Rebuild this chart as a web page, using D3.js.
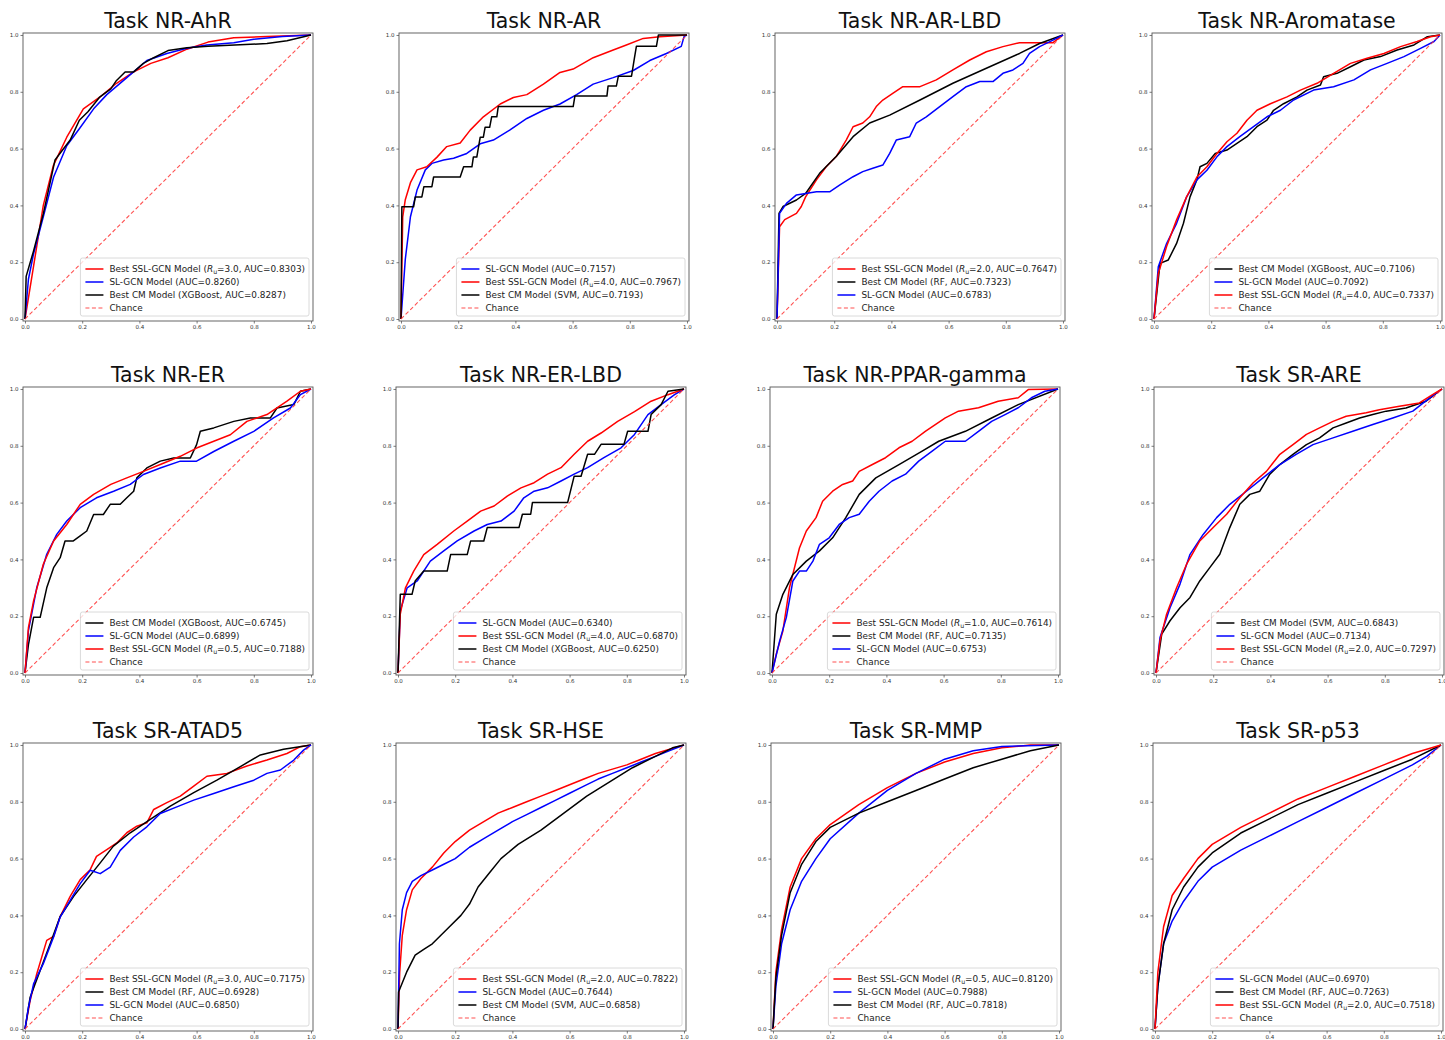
<!DOCTYPE html>
<html><head><meta charset="utf-8">
<script src="https://cdn.jsdelivr.net/npm/d3@7"></script>
<style>body{margin:0;background:#fff;} text{font-family:"DejaVu Sans",sans-serif;}</style>
</head><body><svg id="c" width="1445" height="1040"></svg>
<script>
// ---------- DATA ----------
const taskNames = ["Task NR-AhR","Task NR-AR","Task NR-AR-LBD","Task NR-Aromatase",
  "Task NR-ER","Task NR-ER-LBD","Task NR-PPAR-gamma","Task SR-ARE",
  "Task SR-ATAD5","Task SR-HSE","Task SR-MMP","Task SR-p53"];
const tickValues = [0,0.2,0.4,0.6,0.8,1.0];
const chance = [[0,0],[1,1]];

// NR-AhR
const AhR_ssl=[[0,0],[0.029,0.18],[0.064,0.40],[0.099,0.54],[0.146,0.64],[0.204,0.74],[0.26,0.78],[0.32,0.83],[0.38,0.87],[0.44,0.90],[0.5,0.92],[0.566,0.95],[0.64,0.975],[0.73,0.99],[0.846,0.995],[1,1]];
const AhR_sl=[[0,0],[0.012,0.14],[0.03,0.23],[0.064,0.36],[0.1,0.50],[0.146,0.61],[0.19,0.67],[0.24,0.74],[0.286,0.79],[0.356,0.85],[0.426,0.91],[0.496,0.935],[0.566,0.953],[0.636,0.965],[0.73,0.973],[0.8,0.985],[0.9,0.995],[1,1]];
const AhR_cm=[[0,0],[0.004,0.15],[0.03,0.24],[0.064,0.37],[0.105,0.56],[0.12,0.58],[0.158,0.63],[0.19,0.70],[0.22,0.73],[0.26,0.78],[0.30,0.81],[0.32,0.84],[0.35,0.87],[0.38,0.87],[0.414,0.90],[0.45,0.92],[0.5,0.945],[0.566,0.955],[0.64,0.96],[0.846,0.97],[0.916,0.98],[0.96,0.99],[1,1]];
// NR-AR
const AR_sl=[[0,0],[0.015,0.21],[0.033,0.36],[0.056,0.454],[0.085,0.525],[0.108,0.548],[0.149,0.56],[0.184,0.566],[0.23,0.583],[0.277,0.617],[0.323,0.63],[0.38,0.665],[0.44,0.706],[0.498,0.735],[0.556,0.757],[0.614,0.79],[0.672,0.827],[0.742,0.85],[0.812,0.875],[0.87,0.91],[0.928,0.935],[0.98,0.96],[0.99,0.995],[1,1]];
const AR_ssl=[[0,0],[0.006,0.36],[0.015,0.42],[0.033,0.48],[0.056,0.525],[0.09,0.536],[0.126,0.57],[0.16,0.607],[0.207,0.62],[0.242,0.665],[0.288,0.712],[0.347,0.757],[0.393,0.78],[0.44,0.79],[0.498,0.827],[0.556,0.868],[0.602,0.88],[0.672,0.92],[0.742,0.947],[0.788,0.965],[0.847,0.988],[0.905,0.994],[1,1]];
const AR_cm=[[0,0],[0.003,0.395],[0.044,0.395],[0.05,0.43],[0.073,0.43],[0.08,0.466],[0.108,0.466],[0.114,0.5],[0.207,0.5],[0.219,0.536],[0.248,0.536],[0.253,0.57],[0.265,0.57],[0.277,0.64],[0.288,0.64],[0.294,0.675],[0.31,0.675],[0.317,0.712],[0.335,0.712],[0.34,0.748],[0.602,0.748],[0.608,0.785],[0.72,0.785],[0.724,0.82],[0.753,0.82],[0.76,0.855],[0.806,0.855],[0.816,0.918],[0.823,0.96],[0.893,0.96],[0.9,1.0],[1,1]];
// NR-AR-LBD
const ARLBD_ssl=[[0,0],[0.009,0.325],[0.027,0.35],[0.068,0.372],[0.085,0.396],[0.1,0.43],[0.138,0.49],[0.172,0.536],[0.207,0.572],[0.242,0.63],[0.266,0.677],[0.3,0.69],[0.324,0.712],[0.347,0.748],[0.37,0.771],[0.406,0.795],[0.44,0.818],[0.5,0.818],[0.557,0.842],[0.615,0.877],[0.674,0.912],[0.732,0.941],[0.79,0.959],[0.848,0.973],[0.965,0.973],[1,1]];
const ARLBD_cm=[[0,0],[0.007,0.372],[0.021,0.396],[0.068,0.419],[0.1,0.442],[0.149,0.513],[0.207,0.572],[0.266,0.642],[0.324,0.69],[0.394,0.718],[0.5,0.771],[0.615,0.83],[0.732,0.883],[0.848,0.935],[0.918,0.97],[1,1]];
const ARLBD_sl=[[0,0],[0.009,0.372],[0.033,0.407],[0.068,0.437],[0.1,0.442],[0.138,0.448],[0.184,0.448],[0.22,0.472],[0.266,0.501],[0.3,0.519],[0.335,0.531],[0.37,0.542],[0.394,0.583],[0.417,0.63],[0.464,0.642],[0.487,0.69],[0.522,0.712],[0.569,0.748],[0.615,0.783],[0.662,0.818],[0.709,0.836],[0.755,0.836],[0.79,0.865],[0.825,0.877],[0.86,0.9],[0.883,0.935],[0.918,0.959],[0.965,0.982],[1,1]];
// NR-Aromatase
const ARO_cm=[[0,0],[0.021,0.196],[0.05,0.208],[0.079,0.266],[0.103,0.337],[0.126,0.43],[0.15,0.49],[0.161,0.536],[0.185,0.548],[0.214,0.583],[0.255,0.595],[0.29,0.618],[0.325,0.642],[0.36,0.677],[0.395,0.7],[0.418,0.735],[0.453,0.758],[0.5,0.782],[0.535,0.806],[0.582,0.824],[0.593,0.853],[0.64,0.865],[0.687,0.888],[0.734,0.912],[0.792,0.924],[0.85,0.947],[0.909,0.965],[0.956,0.994],[1,1]];
const ARO_sl=[[0,0],[0.015,0.184],[0.044,0.266],[0.079,0.337],[0.114,0.43],[0.15,0.49],[0.185,0.524],[0.22,0.571],[0.255,0.607],[0.3,0.642],[0.348,0.677],[0.395,0.712],[0.442,0.735],[0.488,0.771],[0.558,0.806],[0.628,0.818],[0.699,0.842],[0.757,0.877],[0.815,0.9],[0.874,0.924],[0.932,0.953],[0.979,0.977],[1,1]];
const ARO_ssl=[[0,0],[0.015,0.16],[0.044,0.255],[0.079,0.349],[0.114,0.43],[0.15,0.5],[0.185,0.536],[0.22,0.583],[0.255,0.624],[0.29,0.654],[0.325,0.7],[0.36,0.735],[0.407,0.758],[0.465,0.782],[0.512,0.806],[0.57,0.83],[0.628,0.865],[0.687,0.9],[0.745,0.918],[0.804,0.935],[0.862,0.959],[0.92,0.977],[0.967,0.994],[1,1]];
// NR-ER
const ER_cm=[[0,0],[0.012,0.1],[0.03,0.196],[0.053,0.196],[0.076,0.3],[0.1,0.371],[0.123,0.406],[0.14,0.465],[0.169,0.465],[0.193,0.483],[0.216,0.5],[0.24,0.558],[0.274,0.558],[0.298,0.594],[0.333,0.594],[0.356,0.617],[0.38,0.64],[0.391,0.687],[0.426,0.722],[0.473,0.746],[0.52,0.757],[0.578,0.757],[0.6,0.804],[0.613,0.851],[0.66,0.863],[0.73,0.886],[0.788,0.898],[0.858,0.898],[0.881,0.933],[0.94,0.945],[0.963,0.992],[1,1]];
const ER_sl=[[0,0],[0.012,0.149],[0.041,0.3],[0.076,0.418],[0.111,0.488],[0.146,0.535],[0.193,0.582],[0.25,0.617],[0.31,0.64],[0.368,0.664],[0.414,0.699],[0.473,0.722],[0.543,0.746],[0.6,0.746],[0.66,0.78],[0.73,0.816],[0.8,0.851],[0.869,0.898],[0.928,0.933],[0.963,0.98],[1,1]];
const ER_ssl=[[0,0],[0.012,0.16],[0.03,0.254],[0.064,0.383],[0.1,0.465],[0.146,0.523],[0.193,0.594],[0.24,0.629],[0.3,0.664],[0.356,0.687],[0.414,0.71],[0.473,0.734],[0.543,0.763],[0.6,0.792],[0.66,0.816],[0.718,0.839],[0.776,0.886],[0.846,0.91],[0.916,0.957],[0.963,0.992],[1,1]];
// NR-ER-LBD
const ERLBD_sl=[[0,0],[0.008,0.219],[0.032,0.3],[0.067,0.324],[0.113,0.394],[0.16,0.43],[0.207,0.465],[0.266,0.5],[0.312,0.523],[0.36,0.535],[0.406,0.57],[0.44,0.617],[0.476,0.64],[0.523,0.652],[0.57,0.676],[0.616,0.7],[0.663,0.723],[0.72,0.758],[0.78,0.793],[0.827,0.84],[0.874,0.91],[0.92,0.945],[0.967,0.98],[1,1]];
const ERLBD_ssl=[[0,0],[0.008,0.207],[0.026,0.3],[0.055,0.359],[0.09,0.417],[0.137,0.453],[0.195,0.5],[0.242,0.535],[0.289,0.57],[0.336,0.588],[0.382,0.623],[0.43,0.652],[0.476,0.67],[0.523,0.7],[0.57,0.723],[0.616,0.77],[0.663,0.816],[0.71,0.845],[0.768,0.886],[0.827,0.92],[0.885,0.957],[0.944,0.98],[1,1]];
const ERLBD_cm=[[0,0],[0.008,0.277],[0.049,0.277],[0.06,0.324],[0.09,0.359],[0.172,0.359],[0.184,0.417],[0.242,0.417],[0.254,0.465],[0.3,0.465],[0.312,0.512],[0.423,0.512],[0.435,0.559],[0.464,0.559],[0.47,0.6],[0.593,0.6],[0.616,0.693],[0.64,0.693],[0.663,0.77],[0.687,0.77],[0.71,0.805],[0.79,0.805],[0.803,0.851],[0.874,0.851],[0.885,0.91],[0.92,0.945],[0.944,0.992],[1,1]];
// NR-PPAR-gamma
const PPAR_ssl=[[0,0],[0.015,0.067],[0.038,0.148],[0.061,0.3],[0.096,0.44],[0.12,0.5],[0.154,0.547],[0.177,0.605],[0.212,0.64],[0.247,0.664],[0.282,0.676],[0.305,0.71],[0.351,0.734],[0.397,0.758],[0.444,0.793],[0.49,0.816],[0.536,0.851],[0.606,0.898],[0.652,0.922],[0.722,0.934],[0.791,0.957],[0.861,0.969],[0.896,0.998],[1,1]];
const PPAR_cm=[[0,0],[0.015,0.207],[0.038,0.277],[0.073,0.347],[0.12,0.394],[0.166,0.43],[0.212,0.476],[0.258,0.547],[0.305,0.629],[0.363,0.687],[0.444,0.734],[0.525,0.781],[0.583,0.816],[0.676,0.851],[0.768,0.898],[0.861,0.945],[1,1]];
const PPAR_sl=[[0,0],[0.027,0.114],[0.05,0.195],[0.073,0.324],[0.096,0.359],[0.12,0.359],[0.143,0.394],[0.166,0.453],[0.2,0.476],[0.235,0.523],[0.27,0.547],[0.305,0.559],[0.34,0.605],[0.374,0.64],[0.42,0.676],[0.467,0.7],[0.513,0.746],[0.56,0.781],[0.606,0.816],[0.676,0.816],[0.722,0.851],[0.768,0.886],[0.815,0.91],[0.861,0.934],[0.907,0.969],[0.954,0.992],[1,1]];
// SR-ARE
const ARE_cm=[[0,0],[0.02,0.137],[0.049,0.184],[0.084,0.23],[0.119,0.266],[0.153,0.324],[0.188,0.371],[0.223,0.418],[0.258,0.512],[0.293,0.594],[0.328,0.629],[0.363,0.64],[0.398,0.7],[0.433,0.734],[0.479,0.77],[0.526,0.804],[0.572,0.828],[0.619,0.863],[0.665,0.88],[0.712,0.898],[0.758,0.91],[0.805,0.922],[0.874,0.933],[0.944,0.957],[0.967,0.975],[1,1]];
const ARE_sl=[[0,0],[0.014,0.125],[0.049,0.23],[0.084,0.313],[0.119,0.418],[0.165,0.488],[0.212,0.547],[0.258,0.594],[0.316,0.64],[0.374,0.687],[0.433,0.734],[0.49,0.77],[0.549,0.804],[0.619,0.828],[0.688,0.851],[0.758,0.875],[0.828,0.898],[0.898,0.922],[0.956,0.968],[1,1]];
const ARE_ssl=[[0,0],[0.014,0.114],[0.037,0.207],[0.072,0.3],[0.107,0.383],[0.153,0.465],[0.2,0.512],[0.247,0.559],[0.293,0.617],[0.34,0.67],[0.386,0.71],[0.433,0.77],[0.479,0.804],[0.526,0.84],[0.572,0.863],[0.619,0.886],[0.665,0.904],[0.735,0.916],[0.781,0.927],[0.851,0.939],[0.921,0.951],[0.967,0.98],[1,1]];
// SR-ATAD5
const ATAD5_ssl=[[0,0],[0.018,0.1],[0.041,0.194],[0.076,0.312],[0.1,0.326],[0.123,0.396],[0.158,0.467],[0.193,0.526],[0.228,0.561],[0.25,0.608],[0.286,0.632],[0.321,0.655],[0.356,0.691],[0.391,0.714],[0.426,0.726],[0.45,0.773],[0.496,0.797],[0.543,0.82],[0.59,0.855],[0.636,0.89],[0.706,0.9],[0.776,0.926],[0.846,0.947],[0.916,0.97],[0.963,0.994],[1,1]];
const ATAD5_cm=[[0,0],[0.018,0.112],[0.053,0.206],[0.088,0.3],[0.123,0.396],[0.17,0.467],[0.216,0.526],[0.263,0.585],[0.309,0.644],[0.368,0.691],[0.438,0.738],[0.508,0.785],[0.59,0.832],[0.671,0.876],[0.753,0.924],[0.823,0.965],[0.904,0.985],[1,1]];
const ATAD5_sl=[[0,0],[0.012,0.076],[0.03,0.159],[0.064,0.23],[0.1,0.324],[0.123,0.394],[0.158,0.453],[0.193,0.512],[0.228,0.559],[0.263,0.547],[0.298,0.57],[0.333,0.629],[0.38,0.676],[0.426,0.712],[0.473,0.759],[0.531,0.782],[0.59,0.806],[0.66,0.829],[0.73,0.853],[0.8,0.876],[0.846,0.9],[0.893,0.912],[0.94,0.947],[0.974,0.982],[1,1]];
// SR-HSE
const HSE_ssl=[[0,0],[0.006,0.2],[0.015,0.33],[0.03,0.42],[0.05,0.49],[0.08,0.53],[0.12,0.57],[0.16,0.62],[0.2,0.66],[0.25,0.7],[0.3,0.73],[0.35,0.76],[0.4,0.78],[0.45,0.8],[0.5,0.82],[0.55,0.84],[0.6,0.86],[0.65,0.88],[0.7,0.9],[0.75,0.915],[0.8,0.93],[0.85,0.95],[0.9,0.97],[0.95,0.985],[1,1]];
const HSE_sl=[[0,0],[0.005,0.3],[0.015,0.42],[0.03,0.48],[0.05,0.52],[0.08,0.54],[0.12,0.56],[0.16,0.58],[0.2,0.6],[0.25,0.64],[0.3,0.67],[0.35,0.7],[0.4,0.73],[0.45,0.755],[0.5,0.78],[0.55,0.805],[0.6,0.83],[0.65,0.855],[0.7,0.88],[0.75,0.9],[0.8,0.92],[0.85,0.94],[0.9,0.96],[0.95,0.98],[1,1]];
const HSE_cm=[[0,0],[0.002,0.13],[0.03,0.2],[0.06,0.26],[0.09,0.28],[0.12,0.3],[0.15,0.33],[0.18,0.36],[0.22,0.4],[0.25,0.44],[0.28,0.5],[0.32,0.55],[0.36,0.6],[0.42,0.65],[0.5,0.7],[0.58,0.76],[0.66,0.82],[0.74,0.87],[0.82,0.92],[0.9,0.96],[0.96,0.99],[1,1]];
// SR-MMP
const MMP_ssl=[[0,0],[0.01,0.2],[0.03,0.35],[0.06,0.5],[0.1,0.6],[0.15,0.67],[0.2,0.72],[0.3,0.79],[0.4,0.85],[0.5,0.9],[0.6,0.94],[0.7,0.97],[0.8,0.99],[0.9,1.0],[1,1]];
const MMP_sl=[[0,0],[0.01,0.15],[0.03,0.3],[0.06,0.42],[0.1,0.52],[0.15,0.6],[0.2,0.67],[0.3,0.76],[0.4,0.84],[0.5,0.9],[0.6,0.95],[0.7,0.98],[0.8,0.995],[1,1]];
const MMP_cm=[[0,0],[0.01,0.18],[0.03,0.33],[0.06,0.48],[0.1,0.58],[0.15,0.66],[0.2,0.71],[0.3,0.76],[0.4,0.8],[0.5,0.84],[0.6,0.88],[0.7,0.92],[0.8,0.95],[0.9,0.98],[1,1]];
// SR-p53
const P53_sl=[[0,0],[0.01,0.15],[0.03,0.3],[0.06,0.38],[0.1,0.45],[0.15,0.52],[0.2,0.57],[0.3,0.63],[0.4,0.68],[0.5,0.73],[0.6,0.78],[0.7,0.83],[0.8,0.88],[0.9,0.93],[0.95,0.96],[1,1]];
const P53_cm=[[0,0],[0.01,0.15],[0.03,0.3],[0.06,0.42],[0.1,0.5],[0.15,0.57],[0.2,0.62],[0.3,0.69],[0.4,0.74],[0.5,0.79],[0.6,0.83],[0.7,0.87],[0.8,0.91],[0.9,0.95],[1,1]];
const P53_ssl=[[0,0],[0.01,0.2],[0.03,0.36],[0.06,0.47],[0.1,0.53],[0.15,0.6],[0.2,0.65],[0.3,0.71],[0.4,0.76],[0.5,0.81],[0.6,0.85],[0.7,0.89],[0.8,0.93],[0.9,0.97],[1,1]];

// legend order per panel (drawing order), with labels
const panelSeries = [
  [["ssl","3.0","0.8303",AhR_ssl],["sl","","0.8260",AhR_sl],["cm","XGBoost","0.8287",AhR_cm]],
  [["sl","","0.7157",AR_sl],["ssl","4.0","0.7967",AR_ssl],["cm","SVM","0.7193",AR_cm]],
  [["ssl","2.0","0.7647",ARLBD_ssl],["cm","RF","0.7323",ARLBD_cm],["sl","","0.6783",ARLBD_sl]],
  [["cm","XGBoost","0.7106",ARO_cm],["sl","","0.7092",ARO_sl],["ssl","4.0","0.7337",ARO_ssl]],
  [["cm","XGBoost","0.6745",ER_cm],["sl","","0.6899",ER_sl],["ssl","0.5","0.7188",ER_ssl]],
  [["sl","","0.6340",ERLBD_sl],["ssl","4.0","0.6870",ERLBD_ssl],["cm","XGBoost","0.6250",ERLBD_cm]],
  [["ssl","1.0","0.7614",PPAR_ssl],["cm","RF","0.7135",PPAR_cm],["sl","","0.6753",PPAR_sl]],
  [["cm","SVM","0.6843",ARE_cm],["sl","","0.7134",ARE_sl],["ssl","2.0","0.7297",ARE_ssl]],
  [["ssl","3.0","0.7175",ATAD5_ssl],["cm","RF","0.6928",ATAD5_cm],["sl","","0.6850",ATAD5_sl]],
  [["ssl","2.0","0.7822",HSE_ssl],["sl","","0.7644",HSE_sl],["cm","SVM","0.6858",HSE_cm]],
  [["ssl","0.5","0.8120",MMP_ssl],["sl","","0.7988",MMP_sl],["cm","RF","0.7818",MMP_cm]],
  [["sl","","0.6970",P53_sl],["cm","RF","0.7263",P53_cm],["ssl","2.0","0.7518",P53_ssl]]
];

// ---------- DRAW ----------
const svg = d3.select("#c");
svg.append("rect").attr("width",1445).attr("height",1040).attr("fill","#fff");
const boxTops=[33,387,743];
const boxLefts=[[23,399,775,1152],[23,396,770,1154],[23,396,771,1153]];
const BW=290, BH=288;
const colors={ssl:"#ff0000", sl:"#0000ff", cm:"#000000"};
const LEG_FS=8.9;

panelSeries.forEach((series,i)=>{
  const r=Math.floor(i/4), c=i%4;
  const L=boxLefts[r][c], T=boxTops[r];
  const x=d3.scaleLinear().domain([-0.007,1.007]).range([L,L+BW]);
  const y=d3.scaleLinear().domain([-0.007,1.007]).range([T+BH,T]);
  const line=d3.line().x(d=>x(d[0])).y(d=>y(d[1]));
  const g=svg.append("g");

  const xa=g.append("g").attr("transform",`translate(0,${T+BH})`)
    .call(d3.axisBottom(x).tickValues(tickValues).tickFormat(d3.format(".1f")).tickSize(2.5).tickPadding(2));
  const ya=g.append("g").attr("transform",`translate(${L},0)`)
    .call(d3.axisLeft(y).tickValues(tickValues).tickFormat(d3.format(".1f")).tickSize(2.5).tickPadding(2));
  [xa,ya].forEach(a=>{
    a.select(".domain").remove();
    a.selectAll("line").attr("stroke","#444").attr("stroke-width",0.7);
    a.selectAll("text").attr("font-size",5.5).attr("fill","#333").attr("font-family","DejaVu Sans");
  });

  series.forEach(s=>{
    g.append("path").datum(s[3]).attr("d",line).attr("fill","none")
      .attr("stroke",colors[s[0]]).attr("stroke-width",1.5).attr("stroke-linejoin","round");
  });
  g.append("path").datum(chance).attr("d",line).attr("fill","none")
    .attr("stroke","#ff3333").attr("stroke-opacity",0.85).attr("stroke-width",1.1).attr("stroke-dasharray","4,2.5");

  g.append("rect").attr("x",L).attr("y",T).attr("width",BW).attr("height",BH)
    .attr("fill","none").attr("stroke","#555").attr("stroke-width",0.9);

  g.append("text").attr("x",L+BW/2).attr("y",T-5).attr("text-anchor","middle")
    .attr("font-size",20.5).attr("fill","#111").text(taskNames[i]);

  // legend
  const lg=g.append("g");
  const rowH=13, legH=58;
  const rows=series.map(s=>({kind:s[0],a:s[1],auc:s[2]})).concat([{kind:"chance"}]);
  const texts=[];
  rows.forEach((rw,k)=>{
    const t=lg.append("text").attr("font-size",LEG_FS).attr("fill","#222");
    if(rw.kind==="ssl"){
      t.append("tspan").text("Best SSL-GCN Model (");
      t.append("tspan").attr("font-style","italic").text("R");
      t.append("tspan").attr("font-size",LEG_FS*0.7).attr("dy",1.8).text("u");
      t.append("tspan").attr("dy",-1.8).text(`=${rw.a}, AUC=${rw.auc})`);
    } else if(rw.kind==="sl"){
      t.text(`SL-GCN Model (AUC=${rw.auc})`);
    } else if(rw.kind==="cm"){
      t.text(`Best CM Model (${rw.a}, AUC=${rw.auc})`);
    } else t.text("Chance");
    texts.push(t);
  });
  const maxW=d3.max(texts,t=>t.node().getComputedTextLength());
  const legW=29+maxW+4;
  const lx=L+BW-4-legW, ly=T+BH-5-legH;
  lg.insert("rect",":first-child").attr("x",lx).attr("y",ly).attr("width",legW).attr("height",legH)
    .attr("rx",2).attr("fill","#fff").attr("fill-opacity",0.8).attr("stroke","#d0d0d0").attr("stroke-width",0.8);
  rows.forEach((rw,k)=>{
    const cy=ly+11+k*rowH;
    texts[k].attr("x",lx+29).attr("y",cy+3);
    const ln=lg.append("line").attr("x1",lx+5).attr("x2",lx+23).attr("y1",cy).attr("y2",cy);
    if(rw.kind==="chance") ln.attr("stroke","#ff3333").attr("stroke-opacity",0.85).attr("stroke-width",1.1).attr("stroke-dasharray","4,2.5");
    else ln.attr("stroke",colors[rw.kind]).attr("stroke-width",1.5);
  });
});
</script></body></html>
